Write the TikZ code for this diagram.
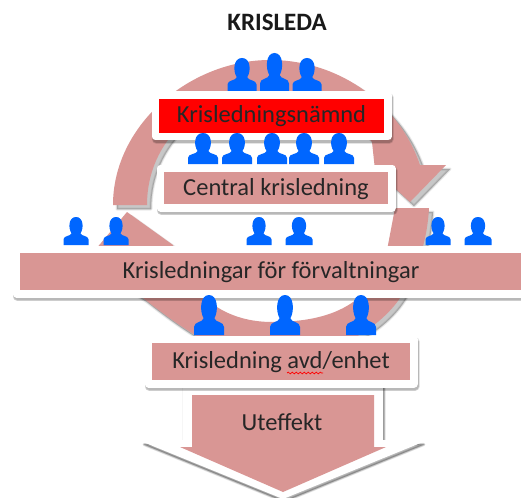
\documentclass[tikz,border=0pt]{standalone}
\usepackage{fontspec}
\setmainfont{Carlito}
\usetikzlibrary{decorations.pathmorphing}
\definecolor{ringrose}{HTML}{D99694}
\definecolor{personblue}{HTML}{0066FF}
\tikzset{
  shadowlayer/.style={draw=black,fill=black,opacity=.1,line join=round,
    transform canvas={xshift=1pt,yshift=-2.5pt}},
  softshadow/.style={
    preaction={shadowlayer,line width=#1+2},
    preaction={shadowlayer,line width=#1+1},
    preaction={shadowlayer,line width=#1}},
  ringlayer/.style={draw=black,fill=black,opacity=.08,line join=round,
    transform canvas={xshift=4pt,yshift=-4pt}},
  ringshadow/.style={
    preaction={ringlayer,line width=3},
    preaction={ringlayer,line width=1.5},
    preaction={ringlayer,line width=.2}},
  levelbox/.style={softshadow=7.5,draw=white,line width=7.5pt,line join=round,
    fill=ringrose,text=black!85,inner sep=0pt,text height=14pt,text depth=0pt,
    font=\fontsize{24.5}{29}\selectfont},
  person/.pic={
    \fill[personblue] (-.5,0) -- (-.5,-.2) .. controls (-.5,-.34) and (-.2,-.31) .. (-.18,-.42)
      .. controls (-.32,-.6) and (-.3,-1) .. (0,-1) .. controls (.3,-1) and (.32,-.6) .. (.18,-.42)
      .. controls (.2,-.31) and (.5,-.34) .. (.5,-.2) -- (.5,0) -- cycle;
  }
}
\begin{document}
\begin{tikzpicture}[x=1pt,y=-1pt]
  \clip (0,0) rectangle (521,497);
  \fill[white] (0,0) rectangle (521,497);

  \node[font=\fontsize{25}{30}\selectfont\bfseries,text=black!90] (title) at (277,22) {KRISLEDA};

  % upper part of the ring
  \fill[ringrose,ringshadow] (113,205) .. controls (113,125) and (190,60) .. (270,60)
    .. controls (340,60) and (400,105) .. (420,165) -- (446,165) -- (410,202) -- (375,170)
    -- (372,142) .. controls (345,108) and (310,92) .. (270,92)
    .. controls (200,92) and (147,140) .. (147,205) -- cycle;

  % lower part of the ring
  \fill[ringrose,ringshadow] (395,208) -- (429,208) .. controls (427,245) and (415,275) .. (400,298)
    .. controls (380,328) and (330,360) .. (270,360) .. controls (230,360) and (190,335) .. (143,298)
    -- (85,262) -- (127,212) -- (173,245) .. controls (185,290) and (220,322) .. (272,322)
    .. controls (330,322) and (375,305) .. (388,245) -- cycle;

  % outgoing arrow
  \fill[white,softshadow=1] (183,385) -- (183,440) -- (143,442) -- (283,499) -- (423,442)
    -- (383,440) -- (383,385) -- cycle;
  \fill[ringrose] (192,395) -- (374,395) -- (374,447) -- (386,447) -- (283,492) -- (180,447)
    -- (192,447) -- cycle;
  \node[font=\fontsize{24.5}{29}\selectfont,text=black!85] (uteffekt) at (282,422) {Uteffekt};

  \node[levelbox,fill=red,minimum width=232.5pt,minimum height=41.5pt] (namnd) at (271.5,116) {Krisledningsnämnd};
  \node[levelbox,minimum width=231.5pt,minimum height=39.5pt] (central) at (276,188) {Central krisledning};
  \node[levelbox,minimum width=509.5pt,minimum height=44.5pt] (forvaltning) at (271,271.5) {Krisledningar för förvaltningar};
  \node[levelbox,minimum width=265.5pt,minimum height=44.5pt] (avd) at (281,361.5) {Krisledning avd/enhet};

  % spelling mark under avd
  \coordinate (markstart) at (287,373);
  \coordinate (markend) at (323,373);
  \draw[red,line width=.7pt,decorate,decoration={snake,amplitude=.9pt,segment length=4pt}] (markstart) -- (markend);

  % people, bottom centre / width / height
  \foreach \px/\py/\pw/\ph in {242/91/29/33,274.5/91/29/38,307/91/29/33,
      203/164/30/31,237/164/30/31,272/164/30/31,304/164/30/31,339/164/30/31,
      76/245/25/28,116/245/25/28,259/245/25/28,299/245/27/28,438/245/25/28,478/245/27/28,
      209/335/30/40,285/335/30/40,361/335/30/40}
    \pic[xscale=\pw,yscale=\ph] at (\px,\py) {person};
\end{tikzpicture}
\end{document}
